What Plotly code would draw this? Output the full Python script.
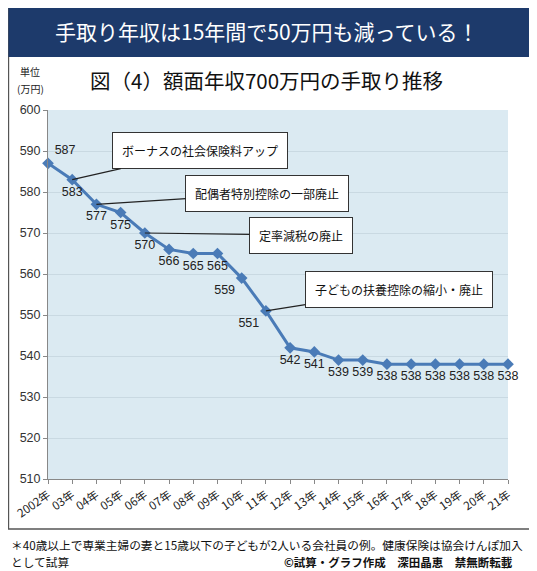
import plotly.graph_objects as go

years = ["2002年", "03年", "04年", "05年", "06年", "07年", "08年", "09年", "10年", "11年",
         "12年", "13年", "14年", "15年", "16年", "17年", "18年", "19年", "20年", "21年"]
takehome = [587, 583, 577, 575, 570, 566, 565, 565, 559, 551,
            542, 541, 539, 539, 538, 538, 538, 538, 538, 538]

label_pos = ["top right", "bottom center", "bottom center", "bottom center", "bottom center",
             "bottom center", "bottom center", "bottom center", "bottom left", "bottom left",
             "bottom center", "bottom center", "bottom center", "bottom center", "bottom center",
             "bottom center", "bottom center", "bottom center", "bottom center", "bottom center"]

# callouts: (index of point, text, pixel offset of box)
callouts = [
    (1, "ボーナスの社会保険料アップ", 128, -29),
    (2, "配偶者特別控除の一部廃止", 171, -11),
    (4, "定率減税の廃止", 156, 2),
    (9, "子どもの扶養控除の縮小・廃止", 133, -21),
]

FONT = "Noto Sans CJK JP"
LINE = "#4a7bb7"

fig = go.Figure()
fig.add_trace(go.Scatter(
    x=list(range(len(years))),
    y=takehome,
    mode="lines+markers+text",
    line=dict(color=LINE, width=3),
    marker=dict(symbol="diamond", size=9, color=LINE),
    text=[str(v) for v in takehome],
    textposition=label_pos,
    textfont=dict(family="Liberation Sans", size=12.5, color="#222"),
    cliponaxis=False,
    hoverinfo="skip",
))

annotations = []
for idx, txt, ax, ay in callouts:
    annotations.append(dict(
        x=idx, y=takehome[idx], xref="x", yref="y",
        ax=ax, ay=ay, axref="pixel", ayref="pixel",
        text=txt, showarrow=True, arrowhead=0, arrowwidth=1.2, arrowcolor="#222",
        bgcolor="white", bordercolor="#333", borderwidth=1, borderpad=9,
        font=dict(family=FONT, size=12, color="#111"),
    ))

# header, titles, unit, footnotes
annotations += [
    dict(x=0.476, y=1.214, xref="paper", yref="paper", xanchor="center", yanchor="middle",
         text="手取り年収は15年間で50万円も減っている！", showarrow=False,
         font=dict(family=FONT, size=21, color="white")),
    dict(x=0.476, y=1.081, xref="paper", yref="paper", xanchor="center", yanchor="middle",
         text="図（4）額面年収700万円の手取り推移", showarrow=False,
         font=dict(family=FONT, size=20.5, color="#111")),
    dict(x=-0.039, y=1.103, xref="paper", yref="paper", xanchor="center", yanchor="middle",
         text="単位", showarrow=False,
         font=dict(family=FONT, size=10, color="#222")),
    dict(x=-0.039, y=1.0596, xref="paper", yref="paper", xanchor="center", yanchor="middle",
         text="(万円)", showarrow=False,
         font=dict(family=FONT, size=10, color="#222")),
    dict(x=-0.085, y=-0.1775, xref="paper", yref="paper", xanchor="left", yanchor="middle",
         text="＊40歳以上で専業主婦の妻と15歳以下の子どもが2人いる会社員の例。健康保険は協会けんぽ加入",
         showarrow=False, font=dict(family=FONT, size=11.7, color="#111")),
    dict(x=-0.085, y=-0.2236, xref="paper", yref="paper", xanchor="left", yanchor="middle",
         text="として試算", showarrow=False, font=dict(family=FONT, size=11.7, color="#111")),
    dict(x=1.015, y=-0.2236, xref="paper", yref="paper", xanchor="right", yanchor="middle",
         text="<b>©試算・グラフ作成　深田晶恵　禁無断転載</b>", showarrow=False,
         font=dict(family=FONT, size=11.5, color="#111")),
]

shapes = [
    # outer frame
    dict(type="rect", xref="paper", yref="paper", x0=-0.086, x1=1.052, y0=-0.1355, y1=1.2764,
         line=dict(color="#555", width=1.5), fillcolor="rgba(0,0,0,0)", layer="below"),
    # navy header
    dict(type="rect", xref="paper", yref="paper", x0=-0.086, x1=1.052, y0=1.1436, y1=1.2764,
         line=dict(width=0), fillcolor="#1d3a6b", layer="below"),
]

fig.update_layout(
    width=529, height=563,
    margin=dict(l=40, r=29, t=102, b=92, autoexpand=False),
    paper_bgcolor="white",
    plot_bgcolor="#dbeaf2",
    showlegend=False,
    annotations=annotations,
    shapes=shapes,
    xaxis=dict(
        tickmode="array", tickvals=list(range(len(years))), ticktext=years,
        range=[0, len(years) - 1], tickangle=-35, automargin=False,
        showgrid=False, showline=True, linecolor="#888", linewidth=1,
        ticks="outside", ticklen=4, tickcolor="#888",
        tickfont=dict(family=FONT, size=11.5, color="#222"),
        zeroline=False,
    ),
    yaxis=dict(
        range=[510, 600], dtick=10, automargin=False,
        showgrid=True, gridcolor="#c9d9e2", gridwidth=1,
        showline=True, linecolor="#888", linewidth=1,
        ticks="outside", ticklen=4, tickcolor="#888",
        tickfont=dict(family="Liberation Sans", size=12.5, color="#333"),
        zeroline=False,
    ),
)

fig.write_html("out.html")
